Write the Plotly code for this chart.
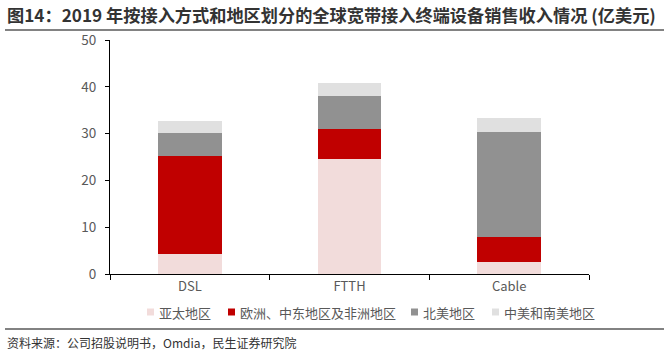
import plotly.graph_objects as go

categories = ["DSL", "FTTH", "Cable"]
series_names = ["亚太地区", "欧洲、中东地区及非洲地区", "北美地区", "中美和南美地区"]
asia_pacific = [4.3, 24.6, 2.6]
emea = [21.0, 6.4, 5.3]
north_america = [4.8, 7.0, 22.5]
latin_america = [2.6, 2.8, 3.0]
y_ticks = [0, 10, 20, 30, 40, 50]

colors = ["#F2DCDB", "#C00000", "#919191", "#E0E0E0"]
values = [asia_pacific, emea, north_america, latin_america]

FONT = "Noto Sans CJK SC"
W, H = 669, 358
L, R, T, B = 110, 80, 40, 84
PW, PH = W - L - R, H - T - B

def px_x(px):
    return (px - L) / PW

def px_y(py):
    return (H - B - py) / PH

fig = go.Figure()
for name, vals, c in zip(series_names, values, colors):
    fig.add_trace(go.Bar(x=categories, y=vals, name=name,
                         marker=dict(color=c, line=dict(width=0)), width=0.4))

fig.update_layout(
    barmode="stack",
    width=W, height=H,
    margin=dict(l=L, r=R, t=T, b=B),
    paper_bgcolor="white", plot_bgcolor="white",
    font=dict(family=FONT, size=13, color="#595959"),
    showlegend=False,
    xaxis=dict(showline=True, linecolor="#000000", linewidth=1, ticks="outside",
               tickson="boundaries", ticklen=5, tickcolor="#000000",
               tickfont=dict(size=13, color="#595959"), showgrid=False),
    yaxis=dict(range=[0, 50], tickvals=y_ticks, showline=True, linecolor="#000000",
               linewidth=1, ticks="outside", ticklen=4, tickcolor="#000000",
               ticklabelstandoff=6,
               tickfont=dict(size=13.5, color="#595959"), showgrid=False, zeroline=False),
)

# manual legend (squares + labels)
legend_x = [147, 228, 411, 492]
legend_y = 312
for name, c, lx in zip(series_names, colors, legend_x):
    fig.add_shape(type="rect", xref="paper", yref="paper",
                  x0=px_x(lx), x1=px_x(lx + 7), y0=px_y(legend_y + 3.5), y1=px_y(legend_y - 3.5),
                  fillcolor=c, line=dict(width=0))
    fig.add_annotation(text=name, xref="paper", yref="paper", x=px_x(lx + 10), y=px_y(legend_y),
                       xanchor="left", yanchor="middle", showarrow=False,
                       font=dict(family=FONT, size=13, color="#595959"))

fig.add_annotation(text="<b>图14：2019 年按接入方式和地区划分的全球宽带接入终端设备销售收入情况 (亿美元)</b>",
                   xref="paper", yref="paper", x=px_x(5), y=px_y(15), xanchor="left", yanchor="middle",
                   showarrow=False, font=dict(family=FONT, size=17.2, color="#333333"))
fig.add_annotation(text="资料来源：公司招股说明书，Omdia，民生证券研究院",
                   xref="paper", yref="paper", x=px_x(5), y=px_y(342), xanchor="left", yanchor="middle",
                   showarrow=False, font=dict(family=FONT, size=12, color="#333333"))
fig.add_shape(type="line", xref="paper", yref="paper", x0=px_x(5), x1=px_x(664), y0=px_y(30), y1=px_y(30),
              line=dict(color="#595959", width=1.5))
fig.add_shape(type="line", xref="paper", yref="paper", x0=px_x(5), x1=px_x(664), y0=px_y(329), y1=px_y(329),
              line=dict(color="#595959", width=1.5))

fig.write_html("out.html", config={"displayModeBar": False},
               post_script="document.body.style.margin='0px';")
